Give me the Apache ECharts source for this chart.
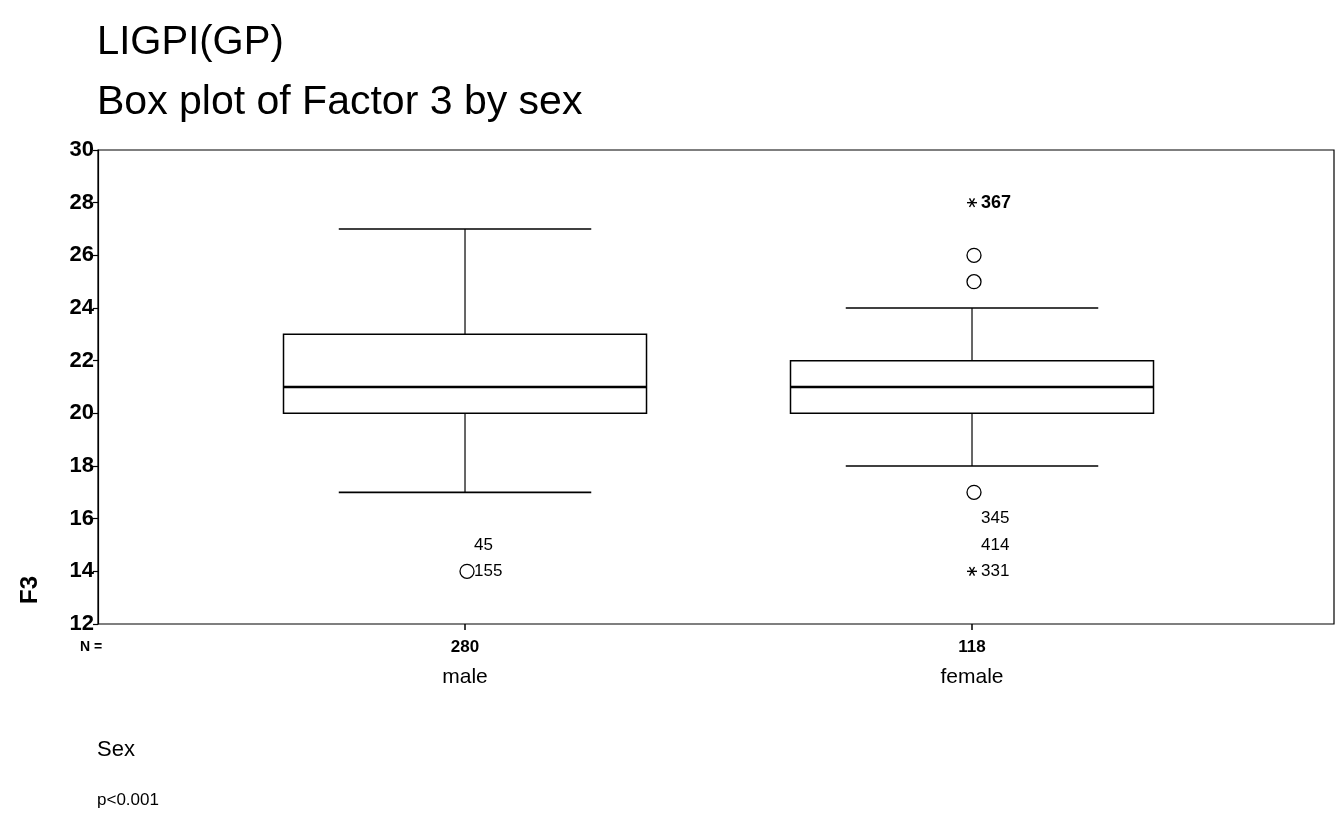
<!DOCTYPE html>
<html>
<head>
<meta charset="utf-8">
<script src="https://cdn.jsdelivr.net/npm/echarts@6/dist/echarts.min.js"></script>
<style>html,body{margin:0;padding:0;background:#fff}#c{width:1336px;height:823px}</style>
</head>
<body>
<div id="c"></div>
<script>
// ---- data ----
const categories = ['male', 'female'];
const counts = [280, 118];
const whiskerLow = [17, 18];
const q1 = [20, 20];
const median = [21, 21];
const q3 = [23, 22];
const whiskerHigh = [27, 24];
// outliers: group index, value, marker type ('o' circle, '*' extreme, '' none visible), case label
const outlierGroup = [1, 1, 1, 1, 1, 1, 1, 0, 0];
const outlierValue = [28, 26, 25, 17, 16, 15, 14, 15, 14];
const outlierMarker = ['*', 'o', 'o', 'o', '', '', '*', '', 'o'];
const outlierLabel = ['367', '', '', '', '345', '414', '331', '45', '155'];
const yTicks = [12, 14, 16, 18, 20, 22, 24, 26, 28, 30];

// ---- build ----
const FONT = '"Liberation Sans", Arial, Helvetica, sans-serif';
const BOX_HALF = 0.358, CAP_HALF = 0.249;
const groupPos = categories.map((c, i) => i + 1);

const boxData = categories.map((c, i) => [groupPos[i], whiskerLow[i], q1[i], median[i], q3[i], whiskerHigh[i]]);
const outData = outlierValue.map((v, i) => [groupPos[outlierGroup[i]], v, outlierMarker[i], outlierLabel[i]]);

function renderBox(params, api) {
  const x = api.value(0);
  const lo = api.value(1), a = api.value(2), m = api.value(3), b = api.value(4), hi = api.value(5);
  const tl = api.coord([x - BOX_HALF, b]);
  const br = api.coord([x + BOX_HALF, a]);
  const cx = api.coord([x, m])[0];
  const ym = api.coord([x, m])[1];
  const yLo = api.coord([x, lo])[1], yHi = api.coord([x, hi])[1];
  const capL = api.coord([x - CAP_HALF, lo])[0], capR = api.coord([x + CAP_HALF, lo])[0];
  const st = { stroke: '#000', lineWidth: 1.6, fill: null };
  return {
    type: 'group',
    children: [
      { type: 'rect', shape: { x: tl[0], y: tl[1], width: br[0] - tl[0], height: br[1] - tl[1] }, style: { stroke: '#000', lineWidth: 1.5, fill: 'none' } },
      { type: 'line', shape: { x1: tl[0], y1: ym, x2: br[0], y2: ym }, style: { stroke: '#000', lineWidth: 2.5 } },
      { type: 'line', shape: { x1: cx, y1: tl[1], x2: cx, y2: yHi }, style: { stroke: '#000', lineWidth: 1.2 } },
      { type: 'line', shape: { x1: cx, y1: br[1], x2: cx, y2: yLo }, style: { stroke: '#000', lineWidth: 1.2 } },
      { type: 'line', shape: { x1: capL, y1: yHi, x2: capR, y2: yHi }, style: st },
      { type: 'line', shape: { x1: capL, y1: yLo, x2: capR, y2: yLo }, style: st }
    ]
  };
}

function renderOutlier(params, api) {
  const p = api.coord([api.value(0), api.value(1)]);
  const mk = outData[params.dataIndex][2];
  const lab = outData[params.dataIndex][3];
  const children = [];
  if (mk === 'o') {
    children.push({ type: 'circle', shape: { cx: p[0] + 2, cy: p[1], r: 7 }, style: { stroke: '#000', lineWidth: 1.3, fill: 'none' } });
  } else if (mk === '*') {
    const s = 5;
    [0, Math.PI / 3, 2 * Math.PI / 3].forEach(t => {
      const dx = Math.cos(t) * s, dy = Math.sin(t) * s;
      children.push({ type: 'line', shape: { x1: p[0] - dx, y1: p[1] - dy, x2: p[0] + dx, y2: p[1] + dy }, style: { stroke: '#000', lineWidth: 1.4 } });
    });
  }
  if (lab) {
    const bold = lab === '367';
    children.push({ type: 'text', style: { text: lab, x: p[0] + 9, y: p[1], verticalAlign: 'middle', align: 'left', fill: '#000',
      font: (bold ? 'bold 18px ' : '17px ') + FONT } });
  }
  return { type: 'group', children };
}

const chart = echarts.init(document.getElementById('c'), null, { renderer: 'canvas' });
chart.setOption({
  backgroundColor: '#fff',
  animation: false,
  grid: { left: 98, right: 2, top: 150, bottom: 199, show: true, borderColor: '#000', borderWidth: 1.2, backgroundColor: 'transparent' },
  xAxis: {
    type: 'value', min: 0.2761, max: 2.714,
    axisLine: { show: false },
    splitLine: { show: false },
    axisTick: { show: true, customValues: groupPos, length: 6, inside: false, lineStyle: { color: '#000', width: 1.5 } },
    axisLabel: {
      show: true, customValues: groupPos, margin: 8,
      formatter: v => { const i = groupPos.indexOf(v); return i < 0 ? '' : '{n|' + counts[i] + '}\n{c|' + categories[i] + '}'; },
      rich: {
        n: { fontFamily: FONT, fontSize: 17, fontWeight: 'bold', color: '#000', lineHeight: 30 },
        c: { fontFamily: FONT, fontSize: 21, color: '#000', lineHeight: 30 }
      }
    }
  },
  yAxis: {
    type: 'value', min: yTicks[0], max: yTicks[yTicks.length - 1], interval: 2,
    axisLine: { show: true, lineStyle: { color: '#000', width: 1.2 } },
    axisTick: { show: true, length: 5, lineStyle: { color: '#000', width: 1.2 } },
    splitLine: { show: false },
    axisLabel: { color: '#000', fontFamily: FONT, fontSize: 22, fontWeight: 'bold', margin: 4 }
  },
  series: [
    { type: 'custom', renderItem: renderBox, data: boxData, encode: { x: 0, y: [1, 2, 3, 4, 5] }, clip: false, z: 3 },
    { type: 'custom', renderItem: renderOutlier, data: outData.map(d => [d[0], d[1]]), encode: { x: 0, y: 1 }, clip: false, z: 4 }
  ],
  graphic: [
    { type: 'text', style: { text: 'LIGPI(GP)', x: 97, y: 43, verticalAlign: 'middle', fill: '#000', font: '40px ' + FONT } },
    { type: 'text', style: { text: 'Box plot of Factor 3 by sex', x: 97, y: 103, verticalAlign: 'middle', fill: '#000', font: '41px ' + FONT } },
    { type: 'text', rotation: Math.PI / 2, x: 30, y: 590, style: { text: 'F3', x: 0, y: 0, align: 'center', verticalAlign: 'middle', fill: '#000', font: 'bold 24px ' + FONT } },
    { type: 'text', style: { text: 'N =', x: 80, y: 647, verticalAlign: 'middle', fill: '#000', font: 'bold 14px ' + FONT } },
    { type: 'text', style: { text: 'Sex', x: 97, y: 750, verticalAlign: 'middle', fill: '#000', font: '22px ' + FONT } },
    { type: 'text', style: { text: 'p<0.001', x: 97, y: 800, verticalAlign: 'middle', fill: '#000', font: '17px ' + FONT } }
  ]
});
</script>
</body>
</html>
